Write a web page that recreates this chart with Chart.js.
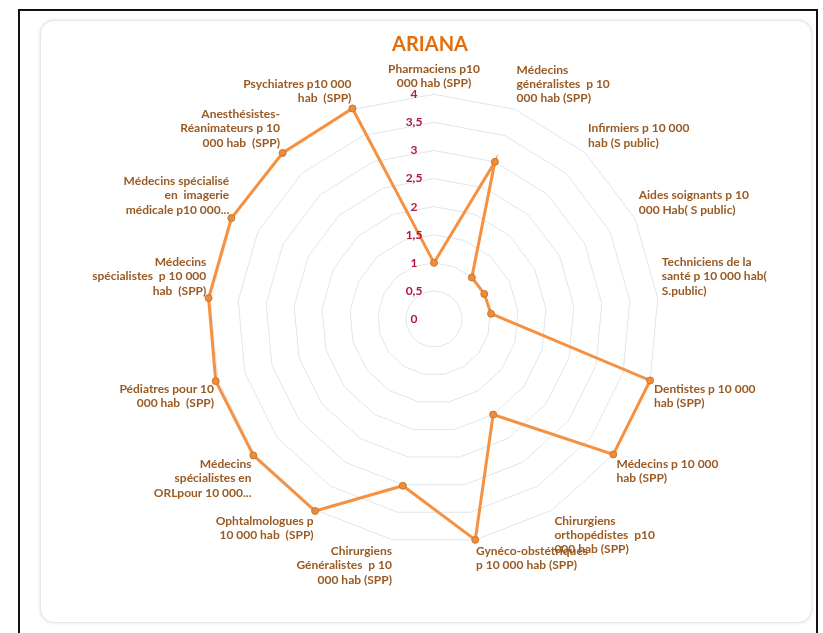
<!DOCTYPE html>
<html>
<head>
<meta charset="utf-8">
<script src="https://cdn.jsdelivr.net/npm/chart.js@4.4.0/dist/chart.umd.min.js"></script>
<style>
  body { margin: 0; background: #fff; }
  #frame { position: absolute; left: 18px; top: 9px; width: 796px; height: 640px; border: 2px solid #111; }
  #box { position: absolute; left: 40px; top: 20px; width: 770px; height: 601px; border: 1px solid #e1e8ef;
         border-radius: 14px; box-shadow: 0 0 3px rgba(170, 195, 215, 0.5); background: #fff; }
  #wrap { position: absolute; left: 40px; top: 20px; width: 772px; height: 603px; }
</style>
</head>
<body>
<div id="frame"></div>
<div id="box"></div>
<div id="wrap"><canvas id="radarChart"></canvas></div>
<script>
// catégories (libellés tels qu'affichés, coupés en lignes)
const categories = [
  ["Pharmaciens p10", "000 hab (SPP)"],
  ["Médecins", "généralistes  p 10", "000 hab (SPP)"],
  ["Infirmiers p 10 000", "hab (S public)"],
  ["Aides soignants p 10", "000 Hab( S public)"],
  ["Techniciens de la", "santé p 10 000 hab(", "S.public)"],
  ["Dentistes p 10 000", "hab (SPP)"],
  ["Médecins p 10 000", "hab (SPP)"],
  ["Chirurgiens", "orthopédistes  p10", "000 hab (SPP)"],
  ["Gynéco-obstétriques", "p 10 000 hab (SPP)"],
  ["Chirurgiens", "Généralistes  p 10", "000 hab (SPP)"],
  ["Ophtalmologues p", "10 000 hab  (SPP)"],
  ["Médecins", "spécialistes en", "ORLpour 10 000..."],
  ["Pédiatres pour 10", "000 hab  (SPP)"],
  ["Médecins", "spécialistes  p 10 000", "hab  (SPP)"],
  ["Médecins spécialisé", "en  imagerie", "médicale p10 000..."],
  ["Anesthésistes-", "Réanimateurs p 10", "000 hab  (SPP)"],
  ["Psychiatres p10 000", "hab  (SPP)"],
];

// valeurs Ariana
const ariana = [1.0, 3.0, 1.0, 1.0, 1.02, 4.0, 4.0, 2.0, 4.0, 3.02, 4.02, 4.03, 4.04, 4.03, 4.03, 4.0, 4.02];

// graduations
const tickValues = [0, 0.5, 1, 1.5, 2, 2.5, 3, 3.5, 4];

// étiquettes de l'axe (virgule décimale)
const tickLabels = {
  id: "tickLabels",
  afterDatasetsDraw(chart) {
    const scale = chart.scales.r;
    const ctx = chart.ctx;
    ctx.save();
    ctx.font = "bold 12px Lato";
    ctx.fillStyle = "#B3163F";
    ctx.textAlign = "center";
    ctx.textBaseline = "middle";
    tickValues.forEach((v) => {
      const d = scale.getDistanceFromCenterForValue(v);
      ctx.fillText(String(v).replace(".", ","), scale.xCenter - 20, scale.yCenter - d);
    });
    ctx.restore();
  },
};

const ctx = document.getElementById("radarChart").getContext("2d");
const chart = new Chart(ctx, {
  type: "radar",
  data: {
    labels: categories,
    datasets: [
      {
        label: "ARIANA",
        data: ariana,
        borderColor: "#F59140",
        borderWidth: 3,
        backgroundColor: "#F59140",
        fill: false,
        pointRadius: 3.5,
        pointBackgroundColor: "#EE8C3A",
        pointBorderColor: "#C8782F",
        pointBorderWidth: 1,
      },
    ],
  },
  options: {
    responsive: true,
    maintainAspectRatio: false,
    animation: false,
    layout: { padding: { top: 1, bottom: 31, left: 16, right: 8 } },
    plugins: {
      legend: { display: false },
      tooltip: { enabled: false },
      title: {
        display: true,
        text: "ARIANA",
        color: "#E46C0A",
        font: { family: "Lato", size: 20, weight: "bold" },
        padding: { top: 12, bottom: 0 },
      },
    },
    scales: {
      r: {
        min: 0,
        max: 4,
        ticks: { stepSize: 0.5, display: false },
        grid: { color: "#dfe5ec", lineWidth: 1 },
        angleLines: { display: false },
        pointLabels: {
          color: "#9A5A23",
          font: { family: "Lato", size: 12, weight: "bold" },
          padding: 4,
        },
      },
    },
  },
  plugins: [tickLabels],
});
</script>
</body>
</html>
